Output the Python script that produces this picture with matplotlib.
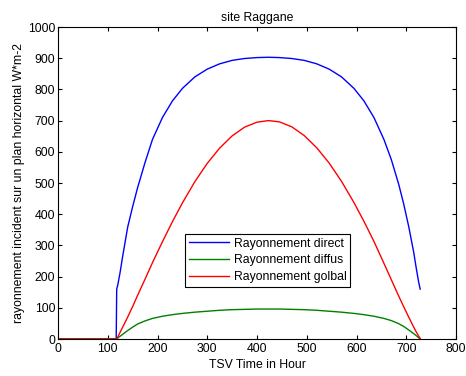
import matplotlib.pyplot as plt

plt.rcParams['font.family'] = ['Liberation Sans', 'DejaVu Sans']

# hours (TSV) and irradiance values, W/m2
hours = [0, 117, 118, 120, 125, 130, 140, 150, 160, 175, 190, 210, 230, 250, 275,
         300, 325, 350, 375, 400, 423, 445, 470, 495, 520, 545, 570, 595, 615,
         635, 655, 670, 685, 695, 705, 715, 720, 725, 728]
direct = [0, 0, 160, 172, 215, 265, 358, 424, 485, 566, 640, 710, 763, 803, 840,
          865, 882, 893, 899, 902, 903, 902, 899, 893, 882, 865, 840, 803, 763,
          710, 640, 575, 495, 432, 360, 278, 228, 182, 160]
diffuse = [0, 0, 0, 3, 9, 15, 27, 38, 48, 58, 66, 73, 78, 82, 86,
           89, 92, 94, 95, 96, 96, 96, 95, 94, 92, 89, 86, 82, 78,
           73, 66, 59, 49, 40, 29, 17, 11, 4, 0]
globale = [0, 0, 0, 6, 22, 38, 70, 104, 140, 192, 245, 312, 376, 436, 504,
           563, 612, 651, 679, 695, 700, 696, 680, 652, 613, 564, 505, 437, 377,
           313, 243, 190, 137, 103, 70, 38, 23, 9, 2]

fig = plt.figure(figsize=(4.66, 3.76), dpi=100)
ax = fig.add_axes([58/466, 1 - 339/376, 398/466, 312/376])

ax.plot(hours, direct, color=(0, 0, 1), lw=1, label='Rayonnement direct')
ax.plot(hours, diffuse, color=(0, 0.5, 0), lw=1, label='Rayonnement diffus')
ax.plot(hours, globale, color=(1, 0, 0), lw=1, label='Rayonnement golbal')

ax.set_xlim(0, 800)
ax.set_ylim(0, 1000)
ax.set_xticks(range(0, 801, 100))
ax.set_yticks(range(0, 1001, 100))
ax.tick_params(direction='in', length=3, width=0.8, top=True, right=True, labelsize=8.8, pad=2)
ax.tick_params(axis='x', pad=3)
for s in ax.spines.values():
    s.set_linewidth(0.8)

ax.set_title('site Raggane', fontsize=8.8, pad=4)
ax.set_xlabel('TSV Time in Hour', fontsize=8.8, labelpad=3)
ax.set_ylabel('rayonnement incident sur un plan horizontal W*m-2', fontsize=8.8, labelpad=2)

leg = ax.legend(loc='lower left', bbox_to_anchor=(127/398, 52/312), fontsize=8.8,
                fancybox=False, framealpha=1, edgecolor='black', borderpad=0.3,
                labelspacing=0.4, handlelength=3.3, handletextpad=0.4, borderaxespad=0)
leg.get_frame().set_linewidth(0.8)

fig.savefig('out.png', dpi=100)
